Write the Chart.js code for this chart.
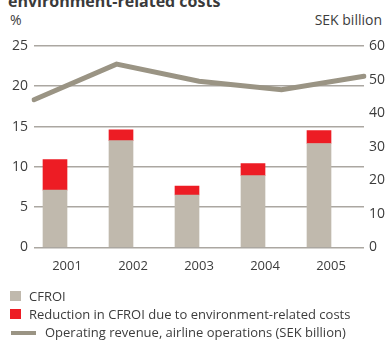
<!DOCTYPE html>
<html>
<head>
<meta charset="utf-8">
<script src="https://cdn.jsdelivr.net/npm/chart.js@4/dist/chart.umd.min.js"></script>
<style>
  html, body { margin: 0; padding: 0; background: #fff; }
  body { width: 385px; height: 343px; overflow: hidden; position: relative;
         font-family: "Open Sans", sans-serif; color: #3c3c3c; }
  #chart { position: absolute; left: 0; top: 0; }
  .title { position: absolute; left: 8px; top: -9px; font-size: 16px; font-weight: 700;
           color: #3a3a3a; white-space: nowrap; line-height: 20px; }
  .unit { position: absolute; top: 11px; font-size: 14px; line-height: 18px; }
  .legend { position: absolute; left: 9px; top: 287px; font-size: 13px; line-height: 18px; }
  .legend div { position: relative; height: 18px; white-space: nowrap; }
  .sw { position: absolute; left: 1px; top: 4px; width: 11px; height: 10px; }
  .sw.line { left: 2px; top: 8px; width: 25px; height: 4px; }
  .legend span { position: absolute; left: 20px; top: 0; }
  .legend span.wide { left: 36px; }
</style>
</head>
<body>
<div class="title">environment-related costs</div>
<div class="unit" style="left:10px">%</div>
<div class="unit" style="right:3px">SEK billion</div>
<canvas id="chart" width="385" height="343"></canvas>
<div class="legend">
  <div><i class="sw" style="background:#c0b9ad"></i><span>CFROI</span></div>
  <div><i class="sw" style="background:#ed1c24"></i><span>Reduction in CFROI due to environment-related costs</span></div>
  <div><i class="sw line" style="background:#9a9484"></i><span class="wide">Operating revenue, airline operations (SEK billion)</span></div>
</div>
<script>
var years     = ["2001", "2002", "2003", "2004", "2005"];
var cfroi     = [7.1, 13.25, 6.5, 8.9, 12.9];   // %
var reduction = [3.8, 1.35, 1.1, 1.5, 1.6];     // % points lost to environment costs
var revenue   = [44.0, 54.6, 49.5, 47.0, 51.0]; // SEK billion

var textColor = "#3c3c3c";
var gridColor = "#aba7a1";
var tickFont  = { family: "'Open Sans', sans-serif", size: 14 };

new Chart(document.getElementById("chart"), {
  data: {
    labels: years,
    datasets: [
      { type: "bar", label: "CFROI", data: cfroi, backgroundColor: "#c0b9ad",
        xAxisID: "x", yAxisID: "y", stack: "c", order: 2, barThickness: 24 },
      { type: "bar", label: "Reduction", data: reduction, backgroundColor: "#ed1c24",
        xAxisID: "x", yAxisID: "y", stack: "c", order: 2, barThickness: 24 },
      { type: "line", label: "Operating revenue", data: revenue,
        xAxisID: "xLine", yAxisID: "y2", order: 1,
        borderColor: "#9a9484", borderWidth: 5, borderCapStyle: "round",
        pointRadius: 0, tension: 0, fill: false }
    ]
  },
  options: {
    responsive: false,
    animation: false,
    layout: { padding: { left: 0, right: 0, top: 46, bottom: 58 } },
    plugins: { legend: { display: false }, tooltip: { enabled: false } },
    scales: {
      x: {
        stacked: true, offset: true,
        grid: { display: false, drawTicks: false }, border: { display: false },
        ticks: { color: textColor, font: { family: tickFont.family, size: 13 }, padding: 11 }
      },
      xLine: {
        type: "category", labels: years, offset: false, display: false
      },
      y: {
        stacked: true, min: 0, max: 25,
        afterFit: function(scale) { scale.width = 34; },
        grid: { color: gridColor, lineWidth: 1.6, drawTicks: false }, border: { display: false },
        ticks: { stepSize: 5, color: textColor, font: tickFont, padding: 6 }
      },
      y2: {
        position: "right", min: 0, max: 60,
        afterFit: function(scale) { scale.width = 21; },
        grid: { display: false, drawTicks: false }, border: { display: false },
        ticks: { stepSize: 10, color: textColor, font: tickFont, padding: 5 }
      }
    }
  }
});
</script>
</body>
</html>
